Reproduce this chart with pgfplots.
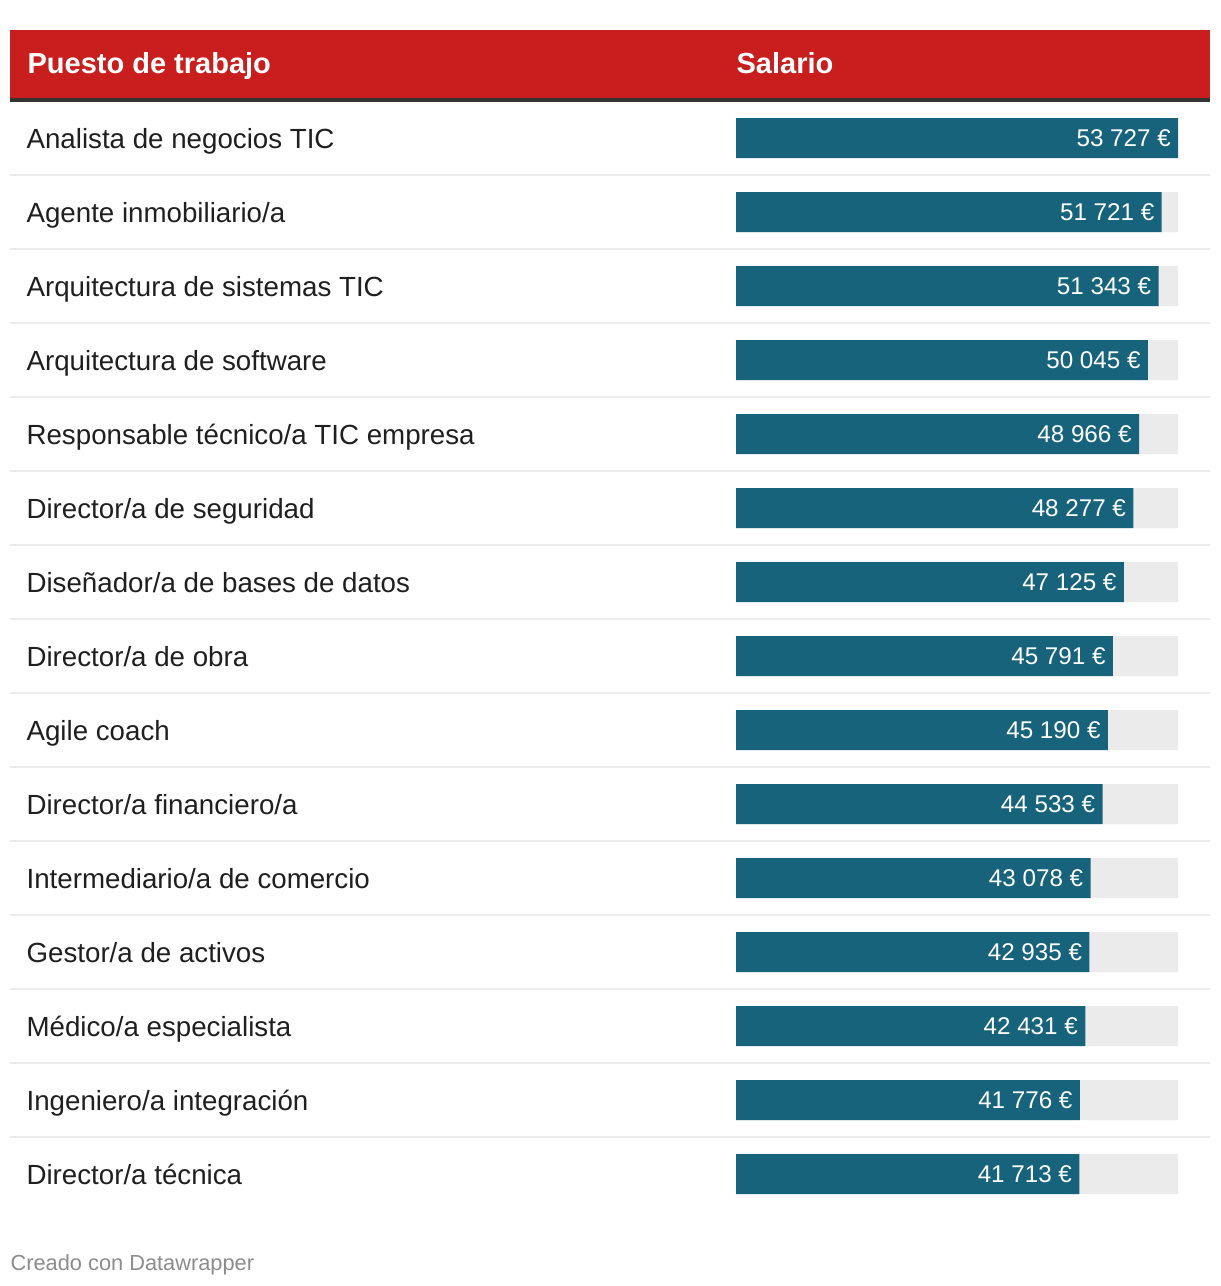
\documentclass[border=0pt]{standalone}
\usepackage{fontspec}
\setmainfont{Liberation Sans}
\usepackage{pgfplots}
\usepackage{pgfplotstable}
\pgfplotsset{compat=1.18}
\definecolor{hdrred}{HTML}{C81E1E}
\definecolor{hdrline}{HTML}{333333}
\definecolor{barteal}{HTML}{17637C}
\definecolor{track}{HTML}{EBEBEB}
\definecolor{sepc}{HTML}{EBEBEB}
\definecolor{txt}{HTML}{1F1F1F}
\definecolor{foot}{HTML}{8C8C8C}

\pgfplotstableread{
row salario max
0 53727 53727
1 51721 53727
2 51343 53727
3 50045 53727
4 48966 53727
5 48277 53727
6 47125 53727
7 45791 53727
8 45190 53727
9 44533 53727
10 43078 53727
11 42935 53727
12 42431 53727
13 41776 53727
14 41713 53727
}\datatable

\begin{document}
\begin{tikzpicture}
\fill[white] (0,0) rectangle (610pt,-643pt);
\begin{scope}[x=0.5pt,y=-0.5pt]
\fill[hdrred] (10,30) rectangle (1210,98);
\fill[hdrline] (10,98) rectangle (1210,102);
\node[anchor=base west, inner sep=0pt, text=white, font=\fontsize{14.5}{16}\selectfont\bfseries] at (27,73) {Puesto de trabajo};
\node[anchor=base west, inner sep=0pt, text=white, font=\fontsize{14.5}{16}\selectfont\bfseries] at (736,73) {Salario};
\foreach \k in {0,...,13} {\fill[sepc] (10,{174+74*\k}) rectangle (1210,{176+74*\k});}
\node[anchor=base west, inner sep=0pt, text=foot, font=\fontsize{10.9}{12}\selectfont] at (10,1270) {Creado con Datawrapper};
\end{scope}
\begin{axis}[at={(0,0)}, anchor=north west, scale only axis,
  width=610pt, height=643pt,
  xmin=-89463.96, xmax=58832.28,
  ymin=-1.864865, ymax=15.513514, y dir=reverse,
  xbar, bar width=20pt, bar shift=0pt,
  axis line style={draw=none},
  xtick=\empty, ytick={0,...,14},
  yticklabels={Analista de negocios TIC, Agente inmobiliario/a, Arquitectura de sistemas TIC, Arquitectura de software, Responsable técnico/a TIC empresa, Director/a de seguridad, Diseñador/a de bases de datos, Director/a de obra, Agile coach, Director/a financiero/a, Intermediario/a de comercio, Gestor/a de activos, Médico/a especialista, Ingeniero/a integración, Director/a técnica},
  major tick length=0pt,
  yticklabel style={anchor=base west, inner sep=0pt, xshift=13pt, yshift=-5pt, text=txt, font=\fontsize{13.85}{16}\selectfont},
  clip=false,
  /pgf/number format/.cd, fixed, precision=0, 1000 sep={\ }, assume math mode=true]
\addplot[fill=track, draw=none] table[x=max, y=row] {\datatable};
\addplot[fill=barteal, draw=none, point meta=x,
  nodes near coords={\pgfmathprintnumber{\pgfplotspointmeta}\ €},
  every node near coord/.append style={anchor=east, inner sep=0pt, text=white, font=\fontsize{12.1}{14}\selectfont, xshift=-3.5pt}]
  table[x=salario, y=row] {\datatable};
\end{axis}
\end{tikzpicture}
\end{document}
